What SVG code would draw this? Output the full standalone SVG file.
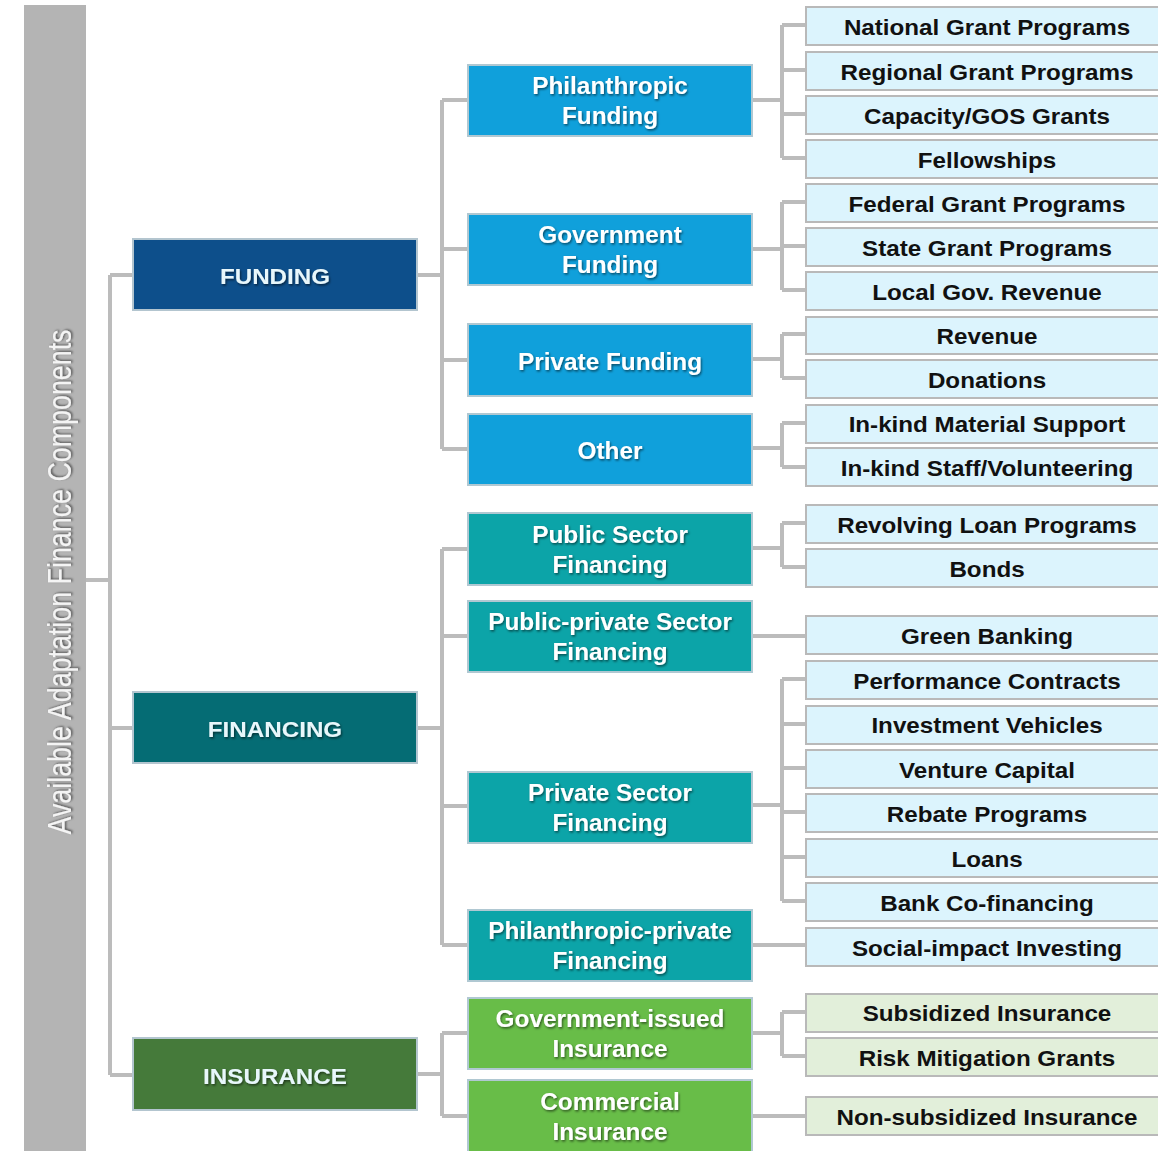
<svg xmlns="http://www.w3.org/2000/svg" width="1158" height="1151" viewBox="0 0 1158 1151">
<defs>
<filter id="sh" x="-10%" y="-30%" width="120%" height="160%">
<feDropShadow dx="1" dy="1.5" stdDeviation="0.9" flood-color="#000" flood-opacity="0.55"/>
</filter>
<style>
.bar{fill:#b4b4b4}
.l1{stroke:#b3c5cf;stroke-width:2}
.l2{stroke:#b0c8d2;stroke-width:2}
.l3{fill:#dcf4fd;stroke:#b9b9b9;stroke-width:2}
.l3g{fill:#e2efda;stroke:#b9b9b9;stroke-width:2}
.fund1{fill:#0d4f8b}.fin1{fill:#056c74}.ins1{fill:#457a3a}
.fund2{fill:#10a0db}.fin2{fill:#0ca4a8}.ins2{fill:#68bd48}
.t1{font-family:"Liberation Sans",Arial,sans-serif;font-weight:bold;font-size:22px;fill:#e8f7fb;text-anchor:middle;filter:url(#sh)}
.t2{font-family:"Liberation Sans",Arial,sans-serif;font-weight:bold;font-size:23px;fill:#ffffff;text-anchor:middle;filter:url(#sh)}
.t3{font-family:"Liberation Sans",Arial,sans-serif;font-weight:bold;font-size:22px;fill:#111111;text-anchor:middle}
.tv{font-family:"Liberation Sans",Arial,sans-serif;font-size:33px;fill:#f4f4f4;text-anchor:middle;filter:url(#sh)}
.c{stroke:#bcbcbc;stroke-width:4;fill:none}
</style>
</defs>
<rect width="1158" height="1151" fill="#ffffff"/>

<g id="root">
<rect class="bar" x="24" y="5" width="62" height="1146"/>
<text class="tv" transform="translate(71,582) rotate(-90)" textLength="505" lengthAdjust="spacingAndGlyphs">Available Adaptation Finance Components</text>
</g>

<g id="connectors">
<path class="c" d="M86 580H110M110 275V1075M110 275H133M110 728H133M110 1075H133"/>
<path class="c" d="M417 275H442M442 100V449M442 100H468M442 249H468M442 360H468M442 449H468"/>
<path class="c" d="M417 728H442M442 549V945M442 549H468M442 636H468M442 806H468M442 945H468"/>
<path class="c" d="M417 1074H442M442 1033V1116M442 1033H468M442 1116H468"/>
<path class="c" d="M752 100H782M782 25V158M782 25H806M782 70H806M782 114H806M782 158H806"/>
<path class="c" d="M752 249H782M782 202V290M782 202H806M782 246H806M782 290H806"/>
<path class="c" d="M752 359H782M782 334V378M782 334H806M782 378H806"/>
<path class="c" d="M752 448H782M782 423V467M782 423H806M782 467H806"/>
<path class="c" d="M752 548H782M782 523V567M782 523H806M782 567H806"/>
<path class="c" d="M752 636H806"/>
<path class="c" d="M752 805H782M782 679V901M782 679H806M782 724H806M782 768H806M782 812H806M782 857H806M782 901H806"/>
<path class="c" d="M752 945H806"/>
<path class="c" d="M752 1033H782M782 1012V1056M782 1012H806M782 1056H806"/>
<path class="c" d="M752 1116H806"/>
</g>

<g id="funding">
<rect class="l1 fund1" x="133" y="239" width="284" height="71"/>
<text class="t1" transform="translate(275,284) scale(1.1,1)">FUNDING</text>
</g>
<g id="financing">
<rect class="l1 fin1" x="133" y="692" width="284" height="71"/>
<text class="t1" transform="translate(275,737) scale(1.1,1)">FINANCING</text>
</g>
<g id="insurance">
<rect class="l1 ins1" x="133" y="1038" width="284" height="72"/>
<text class="t1" transform="translate(275,1084) scale(1.1,1)">INSURANCE</text>
</g>

<g id="philanthropic-funding">
<rect class="l2 fund2" x="468" y="65" width="284" height="71"/>
<text class="t2" transform="translate(610,94) scale(1.06,1)">Philanthropic</text>
<text class="t2" transform="translate(610,124) scale(1.06,1)">Funding</text>
</g>
<g id="government-funding">
<rect class="l2 fund2" x="468" y="214" width="284" height="71"/>
<text class="t2" transform="translate(610,243) scale(1.06,1)">Government</text>
<text class="t2" transform="translate(610,273) scale(1.06,1)">Funding</text>
</g>
<g id="private-funding">
<rect class="l2 fund2" x="468" y="324" width="284" height="72"/>
<text class="t2" transform="translate(610,370) scale(1.06,1)">Private Funding</text>
</g>
<g id="other">
<rect class="l2 fund2" x="468" y="414" width="284" height="71"/>
<text class="t2" transform="translate(610,459) scale(1.06,1)">Other</text>
</g>
<g id="public-sector-financing">
<rect class="l2 fin2" x="468" y="513" width="284" height="72"/>
<text class="t2" transform="translate(610,543) scale(1.06,1)">Public Sector</text>
<text class="t2" transform="translate(610,573) scale(1.06,1)">Financing</text>
</g>
<g id="public-private-financing">
<rect class="l2 fin2" x="468" y="601" width="284" height="71"/>
<text class="t2" transform="translate(610,630) scale(1.06,1)">Public-private Sector</text>
<text class="t2" transform="translate(610,660) scale(1.06,1)">Financing</text>
</g>
<g id="private-sector-financing">
<rect class="l2 fin2" x="468" y="772" width="284" height="71"/>
<text class="t2" transform="translate(610,801) scale(1.06,1)">Private Sector</text>
<text class="t2" transform="translate(610,831) scale(1.06,1)">Financing</text>
</g>
<g id="philanthropic-private-financing">
<rect class="l2 fin2" x="468" y="910" width="284" height="71"/>
<text class="t2" transform="translate(610,939) scale(1.06,1)">Philanthropic-private</text>
<text class="t2" transform="translate(610,969) scale(1.06,1)">Financing</text>
</g>
<g id="government-issued-insurance">
<rect class="l2 ins2" x="468" y="998" width="284" height="71"/>
<text class="t2" transform="translate(610,1027) scale(1.06,1)">Government-issued</text>
<text class="t2" transform="translate(610,1057) scale(1.06,1)">Insurance</text>
</g>
<g id="commercial-insurance">
<rect class="l2 ins2" x="468" y="1080" width="284" height="75"/>
<text class="t2" transform="translate(610,1110) scale(1.06,1)">Commercial</text>
<text class="t2" transform="translate(610,1140) scale(1.06,1)">Insurance</text>
</g>

<g id="national-grant-programs"><rect class="l3" x="806" y="7" width="360" height="38"/><text class="t3" transform="translate(987,35) scale(1.1,1)">National Grant Programs</text></g>
<g id="regional-grant-programs"><rect class="l3" x="806" y="52" width="360" height="38"/><text class="t3" transform="translate(987,80) scale(1.1,1)">Regional Grant Programs</text></g>
<g id="capacity-gos-grants"><rect class="l3" x="806" y="96" width="360" height="38"/><text class="t3" transform="translate(987,124) scale(1.1,1)">Capacity/GOS Grants</text></g>
<g id="fellowships"><rect class="l3" x="806" y="140" width="360" height="38"/><text class="t3" transform="translate(987,168) scale(1.1,1)">Fellowships</text></g>
<g id="federal-grant-programs"><rect class="l3" x="806" y="184" width="360" height="38"/><text class="t3" transform="translate(987,212) scale(1.1,1)">Federal Grant Programs</text></g>
<g id="state-grant-programs"><rect class="l3" x="806" y="228" width="360" height="38"/><text class="t3" transform="translate(987,256) scale(1.1,1)">State Grant Programs</text></g>
<g id="local-gov-revenue"><rect class="l3" x="806" y="272" width="360" height="38"/><text class="t3" transform="translate(987,300) scale(1.1,1)">Local Gov. Revenue</text></g>
<g id="revenue"><rect class="l3" x="806" y="317" width="360" height="37"/><text class="t3" transform="translate(987,344) scale(1.1,1)">Revenue</text></g>
<g id="donations"><rect class="l3" x="806" y="360" width="360" height="38"/><text class="t3" transform="translate(987,388) scale(1.1,1)">Donations</text></g>
<g id="in-kind-material-support"><rect class="l3" x="806" y="405" width="360" height="38"/><text class="t3" transform="translate(987,432) scale(1.1,1)">In-kind Material Support</text></g>
<g id="in-kind-staff-volunteering"><rect class="l3" x="806" y="448" width="360" height="38"/><text class="t3" transform="translate(987,476) scale(1.1,1)">In-kind Staff/Volunteering</text></g>
<g id="revolving-loan-programs"><rect class="l3" x="806" y="505" width="360" height="38"/><text class="t3" transform="translate(987,533) scale(1.1,1)">Revolving Loan Programs</text></g>
<g id="bonds"><rect class="l3" x="806" y="549" width="360" height="38"/><text class="t3" transform="translate(987,577) scale(1.1,1)">Bonds</text></g>
<g id="green-banking"><rect class="l3" x="806" y="616" width="360" height="38"/><text class="t3" transform="translate(987,644) scale(1.1,1)">Green Banking</text></g>
<g id="performance-contracts"><rect class="l3" x="806" y="661" width="360" height="38"/><text class="t3" transform="translate(987,689) scale(1.1,1)">Performance Contracts</text></g>
<g id="investment-vehicles"><rect class="l3" x="806" y="706" width="360" height="38"/><text class="t3" transform="translate(987,733) scale(1.1,1)">Investment Vehicles</text></g>
<g id="venture-capital"><rect class="l3" x="806" y="750" width="360" height="38"/><text class="t3" transform="translate(987,778) scale(1.1,1)">Venture Capital</text></g>
<g id="rebate-programs"><rect class="l3" x="806" y="794" width="360" height="38"/><text class="t3" transform="translate(987,822) scale(1.1,1)">Rebate Programs</text></g>
<g id="loans"><rect class="l3" x="806" y="839" width="360" height="38"/><text class="t3" transform="translate(987,867) scale(1.1,1)">Loans</text></g>
<g id="bank-co-financing"><rect class="l3" x="806" y="883" width="360" height="38"/><text class="t3" transform="translate(987,911) scale(1.1,1)">Bank Co-financing</text></g>
<g id="social-impact-investing"><rect class="l3" x="806" y="928" width="360" height="38"/><text class="t3" transform="translate(987,956) scale(1.1,1)">Social-impact Investing</text></g>
<g id="subsidized-insurance"><rect class="l3g" x="806" y="994" width="360" height="38"/><text class="t3" transform="translate(987,1021) scale(1.1,1)">Subsidized Insurance</text></g>
<g id="risk-mitigation-grants"><rect class="l3g" x="806" y="1038" width="360" height="38"/><text class="t3" transform="translate(987,1066) scale(1.1,1)">Risk Mitigation Grants</text></g>
<g id="non-subsidized-insurance"><rect class="l3g" x="806" y="1097" width="360" height="38"/><text class="t3" transform="translate(987,1125) scale(1.1,1)">Non-subsidized Insurance</text></g>
</svg>
